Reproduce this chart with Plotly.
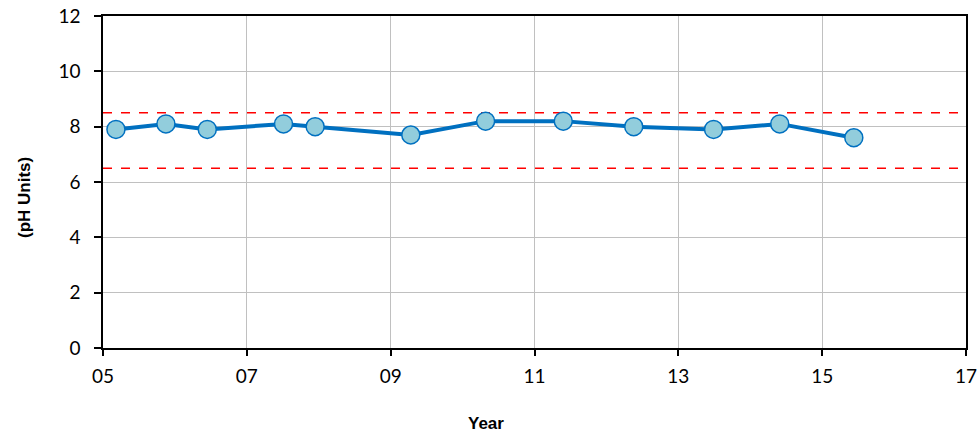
import plotly.graph_objects as go

years = [2005.18, 2005.875, 2006.45, 2007.51, 2007.95, 2009.28, 2010.32, 2011.40, 2012.38, 2013.49, 2014.41, 2015.44]
ph = [7.9, 8.1, 7.9, 8.1, 8.0, 7.7, 8.2, 8.2, 8.0, 7.9, 8.1, 7.6]
upper_limit = 8.5
lower_limit = 6.5
x_tickvals = [2005, 2007, 2009, 2011, 2013, 2015, 2017]
x_ticktext = ["05", "07", "09", "11", "13", "15", "17"]
y_tickvals = [0, 2, 4, 6, 8, 10, 12]

fig = go.Figure()
fig.add_trace(go.Scatter(
    x=years, y=ph, mode="lines+markers",
    line=dict(color="#0070C0", width=4),
    marker=dict(size=18, color="#92CDDC", line=dict(color="#0070C0", width=1.5)),
    showlegend=False,
))
for lim in (upper_limit, lower_limit):
    fig.add_shape(type="line", xref="paper", x0=0, x1=1, yref="y", y0=lim, y1=lim,
                  line=dict(color="#FF0000", width=1.5, dash="dash"), layer="below")

fig.update_layout(
    width=978, height=440,
    margin=dict(l=103, r=12, t=16, b=92),
    paper_bgcolor="white", plot_bgcolor="white",
    font=dict(family="Lato, Open Sans, sans-serif", size=19, color="black"),
)
fig.update_xaxes(
    range=[2005, 2017], tickvals=x_tickvals, ticktext=x_ticktext,
    showgrid=True, gridcolor="#C0C0C0", gridwidth=1,
    showline=True, linecolor="black", linewidth=1.5, mirror=True,
    ticks="outside", ticklen=6, tickcolor="black", tickwidth=1.5,
    zeroline=False, tickfont=dict(size=19), automargin=False, ticklabelstandoff=4,
)
fig.update_yaxes(
    range=[0, 12], tickvals=y_tickvals,
    showgrid=True, gridcolor="#C0C0C0", gridwidth=1,
    showline=True, linecolor="black", linewidth=1.5, mirror=True,
    ticks="outside", ticklen=7, tickcolor="black", tickwidth=1.5,
    zeroline=False, tickfont=dict(size=19), automargin=False, ticklabelstandoff=10,
)
fig.add_annotation(text="<b>Year</b>", xref="paper", yref="paper", x=(486 - 103) / 863, y=-(423 - 348) / 332,
                   showarrow=False, font=dict(family="Liberation Sans, Arial", size=17), xanchor="center", yanchor="middle")
fig.add_annotation(text="<b>(pH Units)</b>", xref="paper", yref="paper", x=-(103 - 25) / 863, y=(348 - 198) / 332,
                   textangle=-90, showarrow=False, font=dict(family="Liberation Sans, Arial", size=17),
                   xanchor="center", yanchor="middle")

fig.write_html("out.html", config={"displayModeBar": False},
               post_script="document.body.style.margin='0';document.body.style.overflow='hidden';")
